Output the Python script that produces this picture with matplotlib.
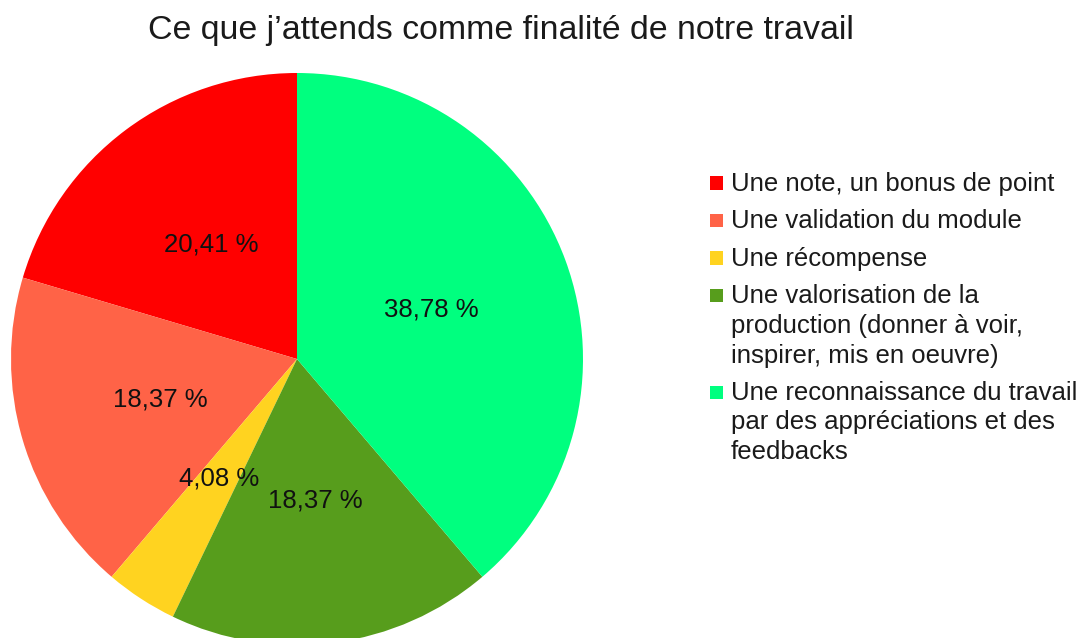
import matplotlib
matplotlib.use("Agg")
import matplotlib.pyplot as plt
from matplotlib.patches import Rectangle

plt.rcParams['font.family'] = ['Liberation Sans', 'DejaVu Sans']

title = "Ce que j\u2019attends comme finalité de notre travail"
categories = [
    "Une note, un bonus de point",
    "Une validation du module",
    "Une récompense",
    "Une valorisation de la\nproduction (donner à voir,\ninspirer, mis en oeuvre)",
    "Une reconnaissance du travail\npar des appréciations et des\nfeedbacks",
]
percentages = [20.41, 18.37, 4.08, 18.37, 38.78]
colors = ["#FF0000", "#FF6347", "#FFD320", "#579D1C", "#00FF7F"]

W, H = 1091, 638
fig = plt.figure(figsize=(W / 100, H / 100), dpi=100)

cx, cy, r = 297, 359, 286
ax = fig.add_axes([(cx - r) / W, (H - cy - r) / H, 2 * r / W, 2 * r / H])
ax.pie(percentages, colors=colors, startangle=90, counterclock=True,
       autopct=lambda p: f"{p:.2f} %".replace('.', ','), pctdistance=0.5,
       textprops=dict(fontsize=18.5, color="#111111"),
       wedgeprops=dict(linewidth=0))
ax.set_xlim(-1, 1)
ax.set_ylim(-1, 1)
ax.set_aspect('auto')
ax.axis('off')

fig.text(501 / W, 1 - 31 / H, title, ha='center', va='center', fontsize=24.4, color="#1a1a1a")

# legend
line_h = 29.5
gap = 37.5
y = 184
for cat, col in zip(categories, colors):
    lines = cat.split('\n')
    fig.patches.append(Rectangle((710 / W, 1 - (y + 5.5) / H), 13 / W, 13 / H,
                                 transform=fig.transFigure, color=col, linewidth=0))
    for i, ln in enumerate(lines):
        fig.text(731 / W, 1 - (y + i * line_h) / H, ln, ha='left', va='center',
                 fontsize=18.5, color="#1a1a1a")
    y += (len(lines) - 1) * line_h + gap

fig.savefig("out.png", dpi=100)
